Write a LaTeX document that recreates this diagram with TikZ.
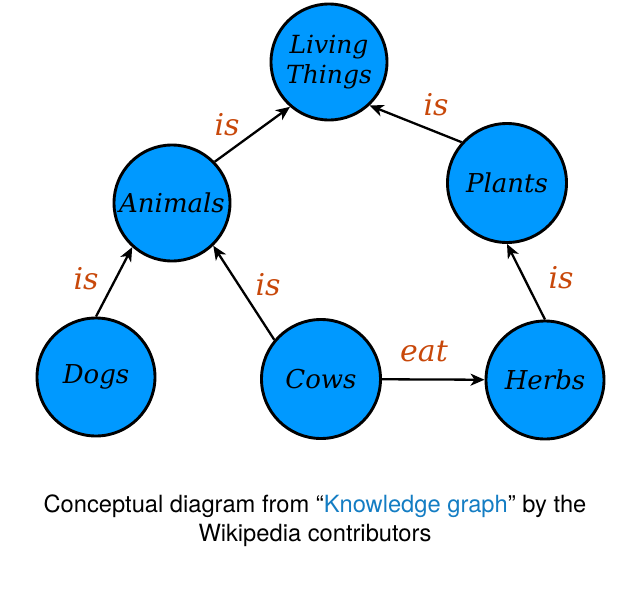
\documentclass[tikz,border=0pt]{standalone}
\usepackage{fontspec}
\setmainfont{DejaVu Serif}
\newfontfamily\capfont{TeX Gyre Heros}
\usetikzlibrary{arrows.meta}
\definecolor{nodeblue}{RGB}{0,153,255}
\definecolor{labred}{RGB}{200,72,10}
\definecolor{linkblue}{RGB}{20,125,195}
\begin{document}
\begin{tikzpicture}[x=1pt,y=-1pt,
  concept/.style={circle,draw=black,line width=2.9pt,fill=nodeblue,inner sep=0pt,
    font=\fontsize{26}{30}\selectfont\itshape,align=center},
  rel/.style={draw=black,line width=2.3pt,-{Stealth[length=14pt,width=12pt,inset=4pt]}},
  rlab/.style={text=labred,font=\fontsize{30}{30}\selectfont\itshape,anchor=base,inner sep=0pt},
  captext/.style={font=\capfont\fontsize{23.7}{29}\selectfont,anchor=base,inner sep=0pt}]
\useasboundingbox (0,0) rectangle (630,600);
\node[concept,minimum size=116pt,font=\fontsize{25}{30}\selectfont\itshape] (living) at (329,62) {Living\\Things};
\node[concept,minimum size=116pt] (animals) at (172,203) {Animals};
\node[concept,minimum size=119pt] (plants) at (507,183) {Plants};
\node[concept,minimum size=118pt] (dogs) at (96,377) {Dogs};
\node[concept,minimum size=119pt] (cows) at (321,379) {Cows};
\node[concept,minimum size=118pt] (herbs) at (545,380) {Herbs};
\draw[rel] (animals.44) -- (living.229);
\draw[rel] (plants.138) -- (living.313);
\draw[rel] (dogs.90) -- (animals.228);
\draw[rel] (cows.140) -- (animals.314);
\draw[rel] (cows) -- (herbs);
\draw[rel] (herbs.90) -- (plants.270);
\node[rlab] (l1) at (227,135) {is};
\node[rlab] (l2) at (436,115) {is};
\node[rlab] (l3) at (86,289) {is};
\node[rlab] (l4) at (268,295) {is};
\node[rlab] (l5) at (561,288) {is};
\node[rlab] (l6) at (424,361) {eat};
\node[captext] (c1) at (315,512) {Conceptual diagram from “\textcolor{linkblue}{Knowledge graph}” by the};
\node[captext] (c2) at (315,541) {Wikipedia contributors};
\end{tikzpicture}
\end{document}
